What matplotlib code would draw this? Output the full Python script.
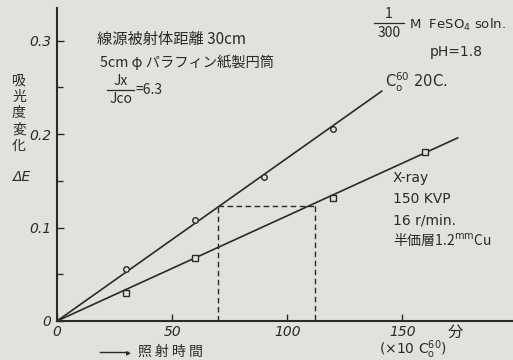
import numpy as np
import matplotlib
matplotlib.use("Agg")
import matplotlib.pyplot as plt
from matplotlib.ticker import MultipleLocator

plt.rcParams['font.family'] = ['Noto Sans CJK JP', 'DejaVu Sans']
plt.rcParams['mathtext.fontset'] = 'dejavusans'

# 測定値 (Co60 と X線)
co_t = [30, 60, 90, 120]
co_de = [0.056, 0.108, 0.154, 0.206]
xr_t = [30, 60, 120, 160]
xr_de = [0.030, 0.067, 0.132, 0.181]

# 原点を通る直線の端点
co_fit_t = [0, 141]
co_fit_de = [0, 0.246]
xr_fit_t = [0, 174]
xr_fit_de = [0, 0.196]

# 等吸光度の比較 (破線)
t_co_eq = 70
t_xr_eq = 112
de_eq = 0.123

paper = '#e3e1dc'
ink = '#2a2a2a'

W, H = 513, 360
fig = plt.figure(figsize=(W / 100, H / 100), dpi=100, facecolor=paper)
ax = fig.add_axes([57 / W, 1 - 321 / H, 1 - 57 / W, (321 - 8) / H])
ax.set_facecolor(paper)

def px(x, y):
    return x / W, 1 - y / H

ax.plot(co_fit_t, co_fit_de, color=ink, lw=1.2)
ax.plot(xr_fit_t, xr_fit_de, color=ink, lw=1.2)
ax.plot(co_t, co_de, 'o', ms=4, mfc=paper, mec=ink, mew=1.0)
ax.plot(xr_t, xr_de, 's', ms=4, mfc=paper, mec=ink, mew=1.0)

dash = dict(color=ink, lw=1.0, ls=(0, (4, 2.5)))
ax.plot([t_co_eq, t_co_eq], [0, de_eq], **dash)
ax.plot([t_co_eq, t_xr_eq], [de_eq, de_eq], **dash)
ax.plot([t_xr_eq, t_xr_eq], [de_eq, 0], **dash)

ax.set_xlim(0, 198)
ax.set_ylim(0, 0.335)
for s in ['top', 'right']:
    ax.spines[s].set_visible(False)
for s in ['left', 'bottom']:
    ax.spines[s].set_linewidth(1.5)
    ax.spines[s].set_color(ink)

ax.set_xticks([0, 50, 100, 150])
ax.set_xticklabels(['0', '50', '100', '150'])
ax.set_yticks([0, 0.1, 0.2, 0.3])
ax.set_yticklabels(['0', '0.1', '0.2', '0.3'])
ax.yaxis.set_minor_locator(MultipleLocator(0.05))
ax.tick_params(direction='in', length=5, width=1.0, color=ink, labelcolor=ink,
               labelsize=10)
ax.tick_params(axis='y', which='minor', direction='in', length=4, width=1.0, color=ink)
ax.tick_params(axis='x', pad=3)
ax.tick_params(axis='y', pad=4)
for lab in ax.get_xticklabels() + ax.get_yticklabels():
    lab.set_fontstyle('italic')
    lab.set_family('DejaVu Sans')

tk = dict(color=ink, fontsize=10, va='center')
lat = dict(color=ink, fontsize=10, va='center', family='DejaVu Sans')

# 縦軸の見出し
for i, ch in enumerate('吸光度変化'):
    fig.text(*px(19, 80 + i * 16.5), ch, ha='center', **tk)
fig.text(*px(22, 177), 'ΔE', ha='center', style='italic', **lat)

# 横軸の見出し
fig.add_artist(plt.Line2D([100 / W, 128 / W], [1 - 352 / H, 1 - 352 / H],
                          color=ink, lw=1.0))
fig.text(*px(126, 352), '▸', ha='left', color=ink, fontsize=7, va='center',
         family='DejaVu Sans')
fig.text(*px(138, 352), '照 射 時 間', ha='left', **tk)
fig.text(*px(455, 332), '分', ha='center', color=ink, fontsize=11, va='center')
fig.text(*px(413, 350), r'(×10 C$_{\rm o}^{60}$)', ha='center', **lat)

# 実験条件
fig.text(*px(97, 39), '線源被射体距離 30cm', ha='left', color=ink, fontsize=11,
         va='center')
fig.text(*px(100, 62), '5cm φ パラフィン紙製円筒', ha='left', color=ink,
         fontsize=10.3, va='center')
fig.text(*px(121, 81), 'Jx', ha='center', **tk)
fig.text(*px(121, 99), 'Jco', ha='center', **tk)
fig.add_artist(plt.Line2D([107 / W, 134 / W], [1 - 90 / H, 1 - 90 / H],
                          color=ink, lw=0.9))
fig.text(*px(135, 90), '=6.3', ha='left', **tk)

fig.text(*px(389, 14), '1', ha='center', **tk)
fig.add_artist(plt.Line2D([374 / W, 404 / W], [1 - 23 / H, 1 - 23 / H],
                          color=ink, lw=0.9))
fig.text(*px(389, 33), '300', ha='center', **tk)
fig.text(*px(409, 25), r'M  FeSO$_4$ soln.', ha='left', color=ink,
         fontsize=9.5, va='center', family='DejaVu Sans')
fig.text(*px(430, 52), 'pH=1.8', ha='left', **lat)

fig.text(*px(385, 82), r'C$_{\rm o}^{60}$ 20C.', ha='left', color=ink,
         fontsize=10.5, va='center', family='DejaVu Sans')

fig.text(*px(393, 178), 'X-ray', ha='left', **lat)
fig.text(*px(393, 199), '150 KVP', ha='left', **lat)
fig.text(*px(393, 220), '16 r/min.', ha='left', **lat)
fig.text(*px(393, 240), r'半価層1.2$^{\rm mm}$Cu', ha='left', **tk)

fig.savefig('out.png', dpi=100, facecolor=paper)
